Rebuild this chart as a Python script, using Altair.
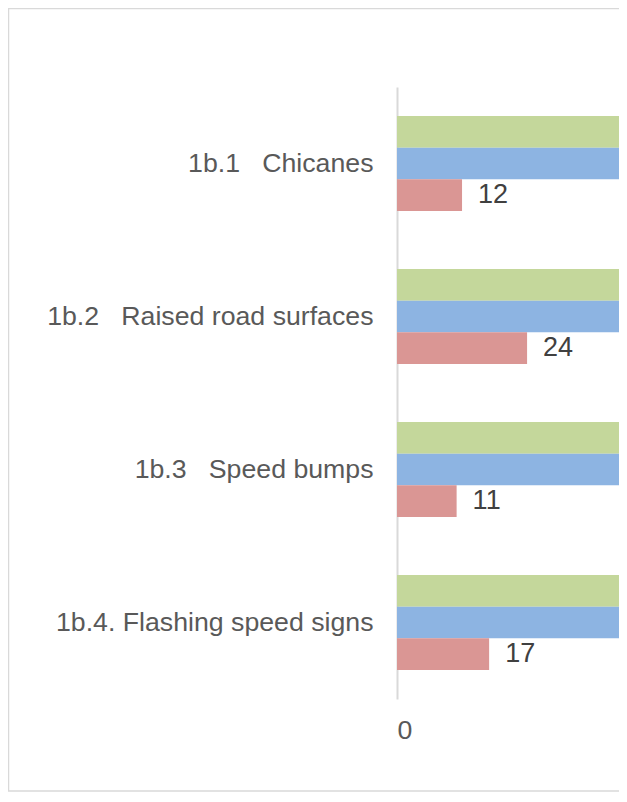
import altair as alt
import pandas as pd

NB = "\u00a0"
categories = [
    "1b.1" + NB * 3 + "Chicanes",
    "1b.2" + NB * 3 + "Raised road surfaces",
    "1b.3" + NB * 3 + "Speed bumps",
    "1b.4. Flashing speed signs",
]
series = ["Series 3", "Series 2", "Series 1"]  # top to bottom within a group
green_vals = [60, 58, 62, 55]
blue_vals = [50, 52, 48, 42]
red_vals = [12, 24, 11, 17]
colors = ["#C4D79B", "#8DB4E2", "#DA9694"]
x_ticks = [0]
x_max = 40.96  # visible part of the value axis

rows = []
for s, vals in zip(series, [green_vals, blue_vals, red_vals]):
    for c, v in zip(categories, vals):
        rows.append({"category": c, "series": s, "value": v})
df = pd.DataFrame(rows)

FONT = "Liberation Sans"

base = alt.Chart(df).encode(
    y=alt.Y(
        "category:N",
        sort=categories,
        scale=alt.Scale(paddingInner=0.38, paddingOuter=0.19),
        axis=alt.Axis(
            title=None,
            labelFont=FONT,
            labelFontSize=26.7,
            labelColor="#595959",
            ticks=False,
            tickSize=0,
            labelPadding=24,
            labelLimit=500,
            domainColor="#D9D9D9",
            domainWidth=2,
        ),
    ),
    yOffset=alt.YOffset("series:N", sort=series, scale=alt.Scale(paddingInner=0, paddingOuter=0)),
    x=alt.X(
        "value:Q",
        scale=alt.Scale(domain=[0, x_max], nice=False, zero=True),
        axis=alt.Axis(
            values=x_ticks,
            title=None,
            grid=False,
            domain=False,
            ticks=False,
            tickSize=0,
            labelFont=FONT,
            labelFontSize=26.7,
            labelColor="#595959",
            labelPadding=18,
        ),
    ),
    color=alt.Color("series:N", scale=alt.Scale(domain=series, range=colors), legend=None),
)

bars = base.mark_bar(clip=True)
labels = base.transform_filter(
    alt.datum.value <= x_max - 8
).mark_text(
    align="left", baseline="middle", dx=16, font=FONT, fontSize=27, color="#404040"
).encode(text=alt.Text("value:Q"), color=alt.value("#404040"))

frame = alt.Chart(pd.DataFrame({"f": [0]})).mark_rect(
    fill=None, stroke="#D9D9D9", strokeWidth=1.5
).encode(x=alt.value(-388.5), x2=alt.value(400), y=alt.value(-78.5), y2=alt.value(704))

chart = alt.layer(frame, bars, labels).properties(
    width=222,
    height=612,
    autosize=alt.AutoSizeParams(type="none"),
    padding={"left": 389, "top": 79, "right": 0, "bottom": 93},
).configure_view(stroke=None)

chart.save("out.html", embed_options={"renderer": "svg", "actions": False})
